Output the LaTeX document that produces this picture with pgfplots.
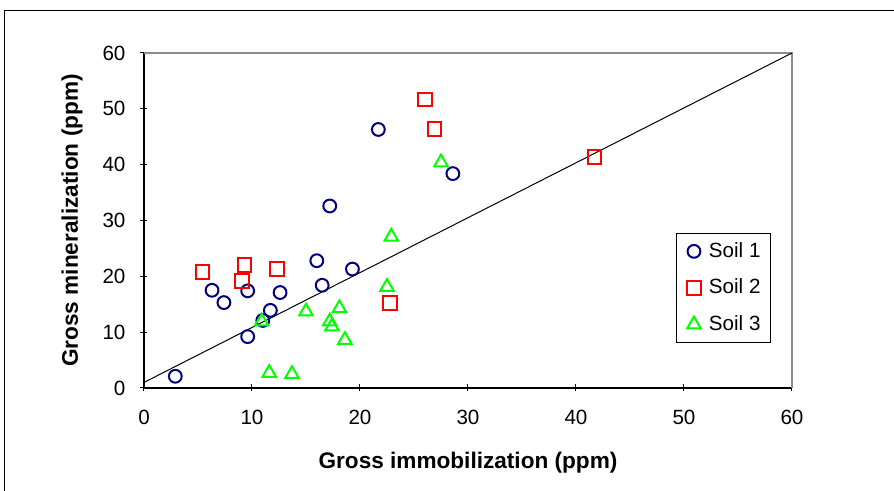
\documentclass[border=0pt]{standalone}
\usepackage{pgfplots}
\pgfplotsset{compat=1.18}
\usepackage{fontspec}
\setmainfont{Liberation Sans}
\definecolor{soilone}{RGB}{0,0,128}
\definecolor{soiltwo}{RGB}{255,0,0}
\definecolor{soilthree}{RGB}{0,255,0}
\definecolor{framegray}{RGB}{140,140,140}
\newcommand{\tickfont}{\fontsize{10.3}{12}\selectfont}
\newcommand{\labfont}{\fontsize{11.3}{13}\selectfont\bfseries}
\begin{document}
\begin{tikzpicture}
% page = 894x491 px at 0.5pt per px; plot area lower left at origin
\useasboundingbox (-72pt,-51.5pt) rectangle (375pt,194pt);
\draw[black,line width=0.5pt] (-69.5pt,-60pt) -- (-69.5pt,188.5pt) -- (380pt,188.5pt);
\begin{axis}[
  at={(0,0)},anchor=south west,
  scale only axis,width=324pt,height=167.5pt,
  xmin=0,xmax=60,ymin=0,ymax=60,
  xtick={0,10,...,60},ytick={0,10,...,60},
  axis x line*=bottom,axis y line*=left,
  axis line style={black,line width=1pt},
  tick align=center,major tick length=3.5pt,
  tick style={black,line width=0.5pt},
  /pgf/number format/assume math mode=true,
  ticklabel style={font=\tickfont},
  xticklabel style={yshift=-6pt},
  yticklabel style={xshift=-4pt},
  xlabel={Gross immobilization (ppm)},
  ylabel={Gross mineralization (ppm)},
  xlabel style={font=\labfont,at={(axis description cs:0.5,-0.224)},anchor=center},
  ylabel style={font=\labfont,at={(axis description cs:-0.111,0.5)},anchor=center,rotate=0},
  clip=false,
  legend style={at={(0.9676,0.463)},anchor=north east,draw=black,line width=0.5pt,
    font=\tickfont,row sep=5.3pt,inner xsep=3pt,inner ysep=2.5pt,cells={anchor=west}},
  legend image code/.code={\path[draw=none,fill=none] (0pt,-1pt) rectangle (11pt,1pt);
    \draw[#1] plot coordinates {(5.5pt,0pt)};},
]
\draw[framegray,line width=1pt] (rel axis cs:0,1) -- (rel axis cs:1,1) -- (rel axis cs:1,0);
\addplot[black,line width=0.5pt,forget plot] coordinates {(0,1) (60,60)};
\addplot[only marks,mark=o,mark size=3.2pt,soilone,line width=1pt] coordinates {
  (2.9,2.1) (6.3,17.5) (7.4,15.3) (9.6,17.4) (9.6,9.2) (11.0,12.1) (11.7,13.9)
  (12.6,17.1) (16.0,22.8) (16.5,18.4) (19.3,21.3) (21.7,46.3) (28.6,38.4) (17.2,32.6)};
\addlegendentry{Soil 1}
\addplot[only marks,mark=square,mark size=3.4pt,soiltwo,line width=1pt] coordinates {
  (5.4,20.8) (9.3,22.0) (9.1,19.2) (12.3,21.3) (22.8,15.2) (26.0,51.7) (26.9,46.4) (41.7,41.4)};
\addlegendentry{Soil 2}
\addplot[only marks,mark=triangle,mark size=3.9pt,soilthree,line width=1pt] coordinates {
  (10.9,11.9) (15.0,13.7) (18.1,14.3) (17.2,11.9) (17.4,11.0) (18.6,8.6) (11.6,2.7)
  (13.7,2.5) (22.5,18.1) (22.9,27.1) (27.5,40.4)};
\addlegendentry{Soil 3}
\end{axis}
\end{tikzpicture}
\end{document}
